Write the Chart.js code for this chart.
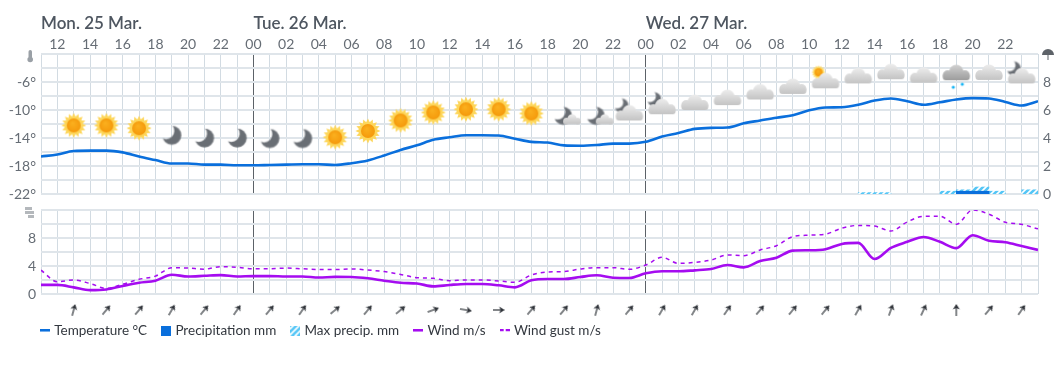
<!DOCTYPE html>
<html>
<head>
<meta charset="utf-8">
<title>Weather forecast</title>
<script src="https://cdn.jsdelivr.net/npm/chart.js@4"></script>
<style>
  body { margin: 0; background: #fff; }
  canvas { position: absolute; left: 0; }
</style>
</head>
<body>
<canvas id="tempChart" width="1060" height="210" style="top:0"></canvas>
<canvas id="windChart" width="1060" height="100" style="top:200px"></canvas>
<canvas id="arrowChart" width="1060" height="52" style="top:297px"></canvas>
<script>
// hours counted from Monday 00:00
const hours = [11,12,13,14,15,16,17,18,19,20,21,22,23,24,25,26,27,28,29,30,31,32,33,34,35,36,37,38,39,40,41,
  42,43,44,45,46,47,48,49,50,51,52,53,54,55,56,57,58,59,60,61,62,63,64,65,66,67,68,69,70,71,72];
const temperature = [-16.65,-16.35,-15.85,-15.8,-15.8,-16.05,-16.65,-17.15,-17.65,-17.65,-17.8,-17.8,-17.9,-17.9,-17.85,
  -17.8,-17.75,-17.75,-17.85,-17.6,-17.2,-16.5,-15.7,-15.05,-14.25,-13.9,-13.6,-13.6,-13.65,-14.1,-14.55,-14.65,-15.05,
  -15.1,-15,-14.8,-14.8,-14.55,-13.8,-13.3,-12.7,-12.55,-12.5,-11.9,-11.5,-11.1,-10.75,-10.05,-9.65,-9.6,-9.25,-8.65,
  -8.35,-8.75,-9.25,-8.9,-8.5,-8.3,-8.35,-8.85,-9.35,-8.75];
const wind = [1.3,1.3,0.95,0.55,0.65,1.15,1.6,1.9,2.75,2.5,2.6,2.7,2.5,2.55,2.55,2.5,2.5,2.35,2.45,
  2.43,2.24,1.9,1.6,1.5,1.09,1.29,1.43,1.43,1.24,0.95,1.95,2.14,2.14,
  2.43,2.67,2.33,2.29,2.95,3.24,3.24,3.38,3.57,4.14,3.81,4.71,5.19,
  6.2,6.25,6.4,7.15,7.3,5.0,6.6,7.45,8.15,7.45,6.55,8.4,7.6,7.4,6.85,6.3];
const gust = [3.4,1.75,2.0,1.5,0.8,1.4,2.1,2.55,3.75,3.7,3.55,3.9,3.8,3.6,3.6,3.7,3.6,3.5,3.5,
  3.57,3.43,3.2,2.8,2.33,2.24,1.9,2.0,2.0,1.86,1.67,2.71,3.14,3.2,
  3.57,3.76,3.76,3.52,4.14,5.24,4.38,4.52,4.86,5.57,5.48,6.29,6.9,
  8.2,8.4,8.55,9.4,9.8,9.7,9.0,10.3,11.1,11.1,9.95,12.0,11.4,10.25,9.95,9.3];

const precipHours = [67.5,68.5];
const precip = [0.2,0.2];
const maxPrecipHours = [61.5,62.5,66.5,67.5,68.5,69.5,71.5];
const maxPrecip = [0.1,0.1,0.2,0.3,0.5,0.2,0.3];

const iconHours = [13,15,17,19,21,23,25,27,29,31,33,35,37,39,41,43,45,47,49,51,53,55,57,59,61,63,65,67,69,71];
const iconKinds = ['sun','sun','sun','moon','moon','moon','moon','moon','sun','sun','sun','sun','sun','sun','sun',
  'moonSmall','moonSmall','moonCloud','moonCloud','cloud','cloud','cloud','cloud','sunCloud','cloud','cloud','cloud',
  'snowCloud','cloud','moonCloud'];
const iconTemps = [-12.2,-12.2,-12.6,-13.6,-14,-14,-14.07,-14.07,-13.9,-13,-11.5,-10.35,-9.9,-9.9,-10.5,
  -11.1,-11.1,-10.5,-9.6,-9,-8.3,-7.5,-6.7,-5.9,-5.2,-4.6,-5.1,-4.75,-4.7,-5.2];

// wind direction in degrees, 0 = arrow pointing up
const arrowHours = [13,15,17,19,21,23,25,27,29,31,33,35,37,39,41,43,45,47,49,51,53,55,57,59,61,63,65,67,69,71];
const arrowAngles = [15,40,40,30,40,35,40,35,50,40,50,70,100,90,40,40,15,40,30,30,35,40,40,40,30,20,25,0,40,35];

const dayHours = [11,24,48];
const dayLabels = ['Mon. 25 Mar.','Tue. 26 Mar.','Wed. 27 Mar.'];

const legendNames = ['Temperature °C','Precipitation mm','Max precip. mm','Wind m/s','Wind gust m/s'];

const FONT = 'Lato';
const BLUE = '#0a6fdc';
const PURPLE = '#a50cf0';
const TICK = '#666d75';
const GRID = '#dfe5ea';
const GRID_V = '#d2dbe2';
const DAYLINE = '#5c6268';

function makeCanvas(w, h, draw) {
  const c = document.createElement('canvas');
  c.width = w;
  c.height = h;
  draw(c.getContext('2d'), w, h);
  return c;
}

function drawSun(ctx, x, y, r) {
  ctx.fillStyle = '#fdd65a';
  ctx.beginPath();
  for (let i = 0; i < 32; i++) {
    const a = i * Math.PI / 16;
    const d = i % 2 ? r * 0.72 : r;
    ctx.lineTo(x + Math.cos(a) * d, y + Math.sin(a) * d);
  }
  ctx.closePath();
  ctx.fill();
  const g = ctx.createRadialGradient(x - r * 0.1, y - r * 0.2, 0, x, y, r * 0.56);
  g.addColorStop(0, '#fbb11f');
  g.addColorStop(1, '#f59a0c');
  ctx.fillStyle = g;
  ctx.beginPath();
  ctx.arc(x, y, r * 0.56, 0, Math.PI * 2);
  ctx.fill();
}

function drawMoon(ctx, x, y, r) {
  const tmp = makeCanvas(r * 3, r * 3, (m, w, h) => {
    m.fillStyle = '#696e74';
    m.beginPath();
    m.arc(w / 2, h / 2, r, 0, Math.PI * 2);
    m.fill();
    m.globalCompositeOperation = 'destination-out';
    m.beginPath();
    m.arc(w / 2 - r * 0.62, h / 2 - r * 0.46, r * 0.88, 0, Math.PI * 2);
    m.fill();
  });
  ctx.drawImage(tmp, x - r * 1.5, y - r * 1.5);
}

function drawCloud(ctx, x, y, s, top, bottom) {
  // s is the scale, 1 gives a cloud about 27 px wide
  const g = ctx.createLinearGradient(0, y - 8 * s, 0, y + 7 * s);
  g.addColorStop(0, top);
  g.addColorStop(1, bottom);
  ctx.fillStyle = g;
  ctx.beginPath();
  ctx.arc(x - 8.5 * s, y + 2 * s, 5 * s, 0, Math.PI * 2);
  ctx.arc(x, y - 1.5 * s, 7 * s, 0, Math.PI * 2);
  ctx.closePath();
  ctx.fill();
  ctx.beginPath();
  ctx.arc(x + 8.5 * s, y + 2 * s, 5 * s, 0, Math.PI * 2);
  ctx.fill();
  ctx.beginPath();
  ctx.roundRect(x - 13.5 * s, y, 27 * s, 7 * s, 3 * s);
  ctx.fill();
}

const CLOUD_TOP = '#ececec';
const CLOUD_BOTTOM = '#c4c4c4';

const icons = {
  sun: makeCanvas(30, 30, ctx => drawSun(ctx, 15, 15, 12.5)),
  moon: makeCanvas(30, 30, ctx => drawMoon(ctx, 15, 15, 9.5)),
  cloud: makeCanvas(30, 24, ctx => drawCloud(ctx, 15, 12, 1, CLOUD_TOP, CLOUD_BOTTOM)),
  moonCloud: makeCanvas(44, 44, ctx => {
    drawMoon(ctx, 14, 14, 7);
    drawCloud(ctx, 22, 22, 1, CLOUD_TOP, CLOUD_BOTTOM);
  }),
  moonSmall: makeCanvas(44, 44, ctx => {
    drawMoon(ctx, 21, 20, 9);
    drawCloud(ctx, 30, 24, 0.65, CLOUD_TOP, CLOUD_BOTTOM);
  }),
  sunCloud: makeCanvas(44, 44, ctx => {
    drawSun(ctx, 15, 13, 7);
    drawCloud(ctx, 22, 22, 1, CLOUD_TOP, CLOUD_BOTTOM);
  }),
  snowCloud: makeCanvas(44, 44, ctx => {
    drawCloud(ctx, 22, 22, 1, '#cfcfcf', '#9d9d9d');
    ctx.fillStyle = '#14b4f4';
    ctx.beginPath();
    ctx.arc(19, 36, 1.6, 0, Math.PI * 2);
    ctx.arc(28, 33, 1.6, 0, Math.PI * 2);
    ctx.fill();
  })
};

const arrowIcon = makeCanvas(12, 12, ctx => {
  ctx.strokeStyle = '#30343a';
  ctx.fillStyle = '#30343a';
  ctx.lineWidth = 1.2;
  ctx.beginPath();
  ctx.moveTo(6, 12);
  ctx.lineTo(6, 3);
  ctx.stroke();
  ctx.beginPath();
  ctx.moveTo(6, 0);
  ctx.lineTo(9.5, 5.5);
  ctx.lineTo(6, 4);
  ctx.lineTo(2.5, 5.5);
  ctx.closePath();
  ctx.fill();
});

function hatchCanvas() {
  return makeCanvas(6, 6, ctx => {
    ctx.fillStyle = '#55c6f6';
    ctx.fillRect(0, 0, 6, 6);
    ctx.strokeStyle = '#ffffff';
    ctx.lineWidth = 1.6;
    ctx.beginPath();
    ctx.moveTo(-1, 4); ctx.lineTo(4, -1);
    ctx.moveTo(-1, 10); ctx.lineTo(10, -1);
    ctx.stroke();
  });
}
const hatchFill = document.createElement('canvas').getContext('2d').createPattern(hatchCanvas(), 'repeat');

const legendIcons = [
  makeCanvas(10, 3, ctx => { ctx.fillStyle = BLUE; ctx.fillRect(0, 0, 10, 2.4); }),
  makeCanvas(10, 10, ctx => { ctx.fillStyle = BLUE; ctx.fillRect(0, 0, 10, 10); }),
  makeCanvas(10, 10, ctx => { ctx.fillStyle = ctx.createPattern(hatchCanvas(), 'repeat'); ctx.fillRect(0, 0, 10, 10); }),
  makeCanvas(10, 3, ctx => { ctx.fillStyle = PURPLE; ctx.fillRect(0, 0, 10, 2.4); }),
  makeCanvas(10, 3, ctx => { ctx.fillStyle = PURPLE; ctx.fillRect(0, 0, 4, 2); ctx.fillRect(6, 0, 4, 2); })
];

// labels sticking out of an axis must not shrink the plot
function noPadding(axis) {
  axis.paddingLeft = 0;
  axis.paddingRight = 0;
  axis.paddingTop = 0;
  axis.paddingBottom = 0;
}

function hourAxis(position, showLabels) {
  return {
    type: 'linear',
    position: position,
    min: 11,
    max: 72,
    offset: false,
    afterBuildTicks: axis => { axis.ticks = hours.map(h => ({ value: h })); },
    afterFit: axis => {
      axis.height = showLabels ? 54 : 0;
      noPadding(axis);
    },
    border: { display: false },
    grid: {
      offset: false,
      drawTicks: false,
      color: c => (c.tick && (c.tick.value === 24 || c.tick.value === 48)) ? DAYLINE : GRID_V
    },
    ticks: {
      display: showLabels,
      autoSkip: false,
      maxRotation: 0,
      padding: 1,
      color: TICK,
      font: { family: FONT, size: 14 },
      callback: v => (v % 2 === 0 && v < 72) ? String(v % 24).padStart(2, '0') : ''
    }
  };
}

function valueAxis(position, min, max, label) {
  return {
    position: position,
    min: min,
    max: max,
    afterFit: axis => {
      axis.width = position === 'left' ? 41 : 22;
      noPadding(axis);
    },
    border: { display: false },
    grid: { display: position === 'left', drawTicks: false, color: GRID, lineWidth: 2 },
    ticks: {
      stepSize: 2,
      padding: 5,
      autoSkip: false,
      color: TICK,
      font: { family: FONT, size: 14 },
      callback: label
    }
  };
}

const dayTitles = {
  id: 'dayTitles',
  afterDraw(chart) {
    const ctx = chart.ctx;
    ctx.save();
    ctx.font = '600 17px ' + FONT;
    ctx.fillStyle = '#4e5660';
    ctx.textBaseline = 'alphabetic';
    dayLabels.forEach((label, i) => {
      ctx.fillText(label, chart.scales.x.getPixelForValue(dayHours[i]), 29);
    });
    ctx.restore();
  }
};

const tempIcons = {
  id: 'tempIcons',
  afterDraw(chart) {
    const ctx = chart.ctx;
    ctx.save();
    // thermometer
    ctx.fillStyle = '#9aa0a6';
    ctx.beginPath();
    ctx.roundRect(28.5, 50, 3.5, 9, 1.7);
    ctx.arc(30.2, 59.5, 2.8, 0, Math.PI * 2);
    ctx.fill();
    // umbrella
    ctx.fillStyle = '#5d6268';
    ctx.beginPath();
    ctx.arc(1048, 55, 6, Math.PI, 0);
    ctx.closePath();
    ctx.fill();
    ctx.fillRect(1047.5, 55, 1, 5);
    ctx.restore();
  }
};

const windIcon = {
  id: 'windIcon',
  afterDraw(chart) {
    const ctx = chart.ctx;
    ctx.save();
    ctx.fillStyle = '#b4b8bc';
    ctx.fillRect(25, 7, 7, 3);
    ctx.fillRect(25, 11, 9, 3);
    ctx.fillRect(28, 15, 6, 3);
    ctx.restore();
  }
};

new Chart(document.getElementById('tempChart'), {
  type: 'line',
  plugins: [dayTitles, tempIcons],
  data: {
    datasets: [
      {
        type: 'bar',
        label: legendNames[1],
        yAxisID: 'yP',
        grouped: false,
        order: 2,
        backgroundColor: BLUE,
        barPercentage: 1,
        categoryPercentage: 1,
        data: precipHours.map((h, i) => ({ x: h, y: precip[i] }))
      },
      {
        type: 'bar',
        label: legendNames[2],
        yAxisID: 'yP',
        grouped: false,
        order: 3,
        backgroundColor: hatchFill,
        barPercentage: 1,
        categoryPercentage: 1,
        data: maxPrecipHours.map((h, i) => ({ x: h, y: maxPrecip[i] }))
      },
      {
        label: legendNames[0],
        yAxisID: 'y',
        order: 1,
        borderColor: BLUE,
        borderWidth: 2.6,
        pointRadius: 0,
        cubicInterpolationMode: 'monotone',
        data: hours.map((h, i) => ({ x: h, y: temperature[i] }))
      },
      {
        label: 'icons',
        yAxisID: 'y',
        order: 0,
        showLine: false,
        pointRadius: 3,
        pointStyle: ctx => icons[iconKinds[ctx.dataIndex]],
        data: iconHours.map((h, i) => ({ x: h, y: iconTemps[i] }))
      }
    ]
  },
  options: {
    responsive: false,
    animation: false,
    layout: { autoPadding: false, padding: { bottom: 16 } },
    plugins: { legend: { display: false }, tooltip: { enabled: false } },
    scales: {
      x: hourAxis('top', true),
      y: valueAxis('left', -22, -2, v => (v !== -2 && (v + 2) % 4 === 0) ? v + '°' : ''),
      yP: valueAxis('right', 0, 10, v => v < 10 ? String(v) : '')
    }
  }
});

new Chart(document.getElementById('windChart'), {
  type: 'line',
  plugins: [windIcon],
  data: {
    datasets: [
      {
        label: legendNames[3],
        borderColor: PURPLE,
        borderWidth: 2.6,
        pointRadius: 0,
        cubicInterpolationMode: 'monotone',
        data: hours.map((h, i) => ({ x: h, y: wind[i] }))
      },
      {
        label: legendNames[4],
        borderColor: PURPLE,
        borderWidth: 1.5,
        borderDash: [4, 4],
        pointRadius: 0,
        cubicInterpolationMode: 'monotone',
        data: hours.map((h, i) => ({ x: h, y: gust[i] }))
      }
    ]
  },
  options: {
    responsive: false,
    animation: false,
    layout: { autoPadding: false, padding: { top: 10, bottom: 6 } },
    plugins: { legend: { display: false }, tooltip: { enabled: false } },
    scales: {
      x: hourAxis('top', false),
      y: valueAxis('left', 0, 12, v => (v % 4 === 0 && v < 12) ? String(v) : ''),
      yR: { display: true, position: 'right', afterFit: a => { a.width = 22; noPadding(a); }, grid: { display: false }, border: { display: false }, ticks: { display: false } }
    }
  }
});

const legendShift = {
  id: 'legendShift',
  afterLayout(chart) {
    // move the legend under the plot, up against the arrows
    chart.legend.left += 26;
    chart.legend.right += 26;
    chart.legend.top -= 15.5;
  }
};

new Chart(document.getElementById('arrowChart'), {
  type: 'line',
  plugins: [legendShift],
  data: {
    datasets: [{
      label: 'wind direction',
      showLine: false,
      pointRadius: 3,
      pointStyle: arrowIcon,
      rotation: arrowAngles,
      data: arrowHours.map(h => ({ x: h, y: 0.5 }))
    }]
  },
  options: {
    responsive: false,
    animation: false,
    layout: { autoPadding: false },
    plugins: {
      tooltip: { enabled: false },
      legend: {
        position: 'bottom',
        align: 'start',
        labels: {
          usePointStyle: true,
          boxWidth: 5,
          padding: 16.5,
          color: '#33383f',
          font: { family: FONT, size: 13.5 },
          generateLabels: () => legendNames.map((name, i) => ({
            text: name,
            pointStyle: legendIcons[i],
            fontColor: '#33383f',
            lineWidth: 0,
            hidden: false
          }))
        }
      }
    },
    scales: {
      x: { type: 'linear', min: 11, max: 72, display: false },
      y: { min: 0, max: 1, position: 'left', afterFit: a => { a.width = 41; noPadding(a); }, grid: { display: false }, border: { display: false }, ticks: { display: false } },
      yR: { display: true, position: 'right', afterFit: a => { a.width = 22; noPadding(a); }, grid: { display: false }, border: { display: false }, ticks: { display: false } }
    }
  }
});
</script>
</body>
</html>
